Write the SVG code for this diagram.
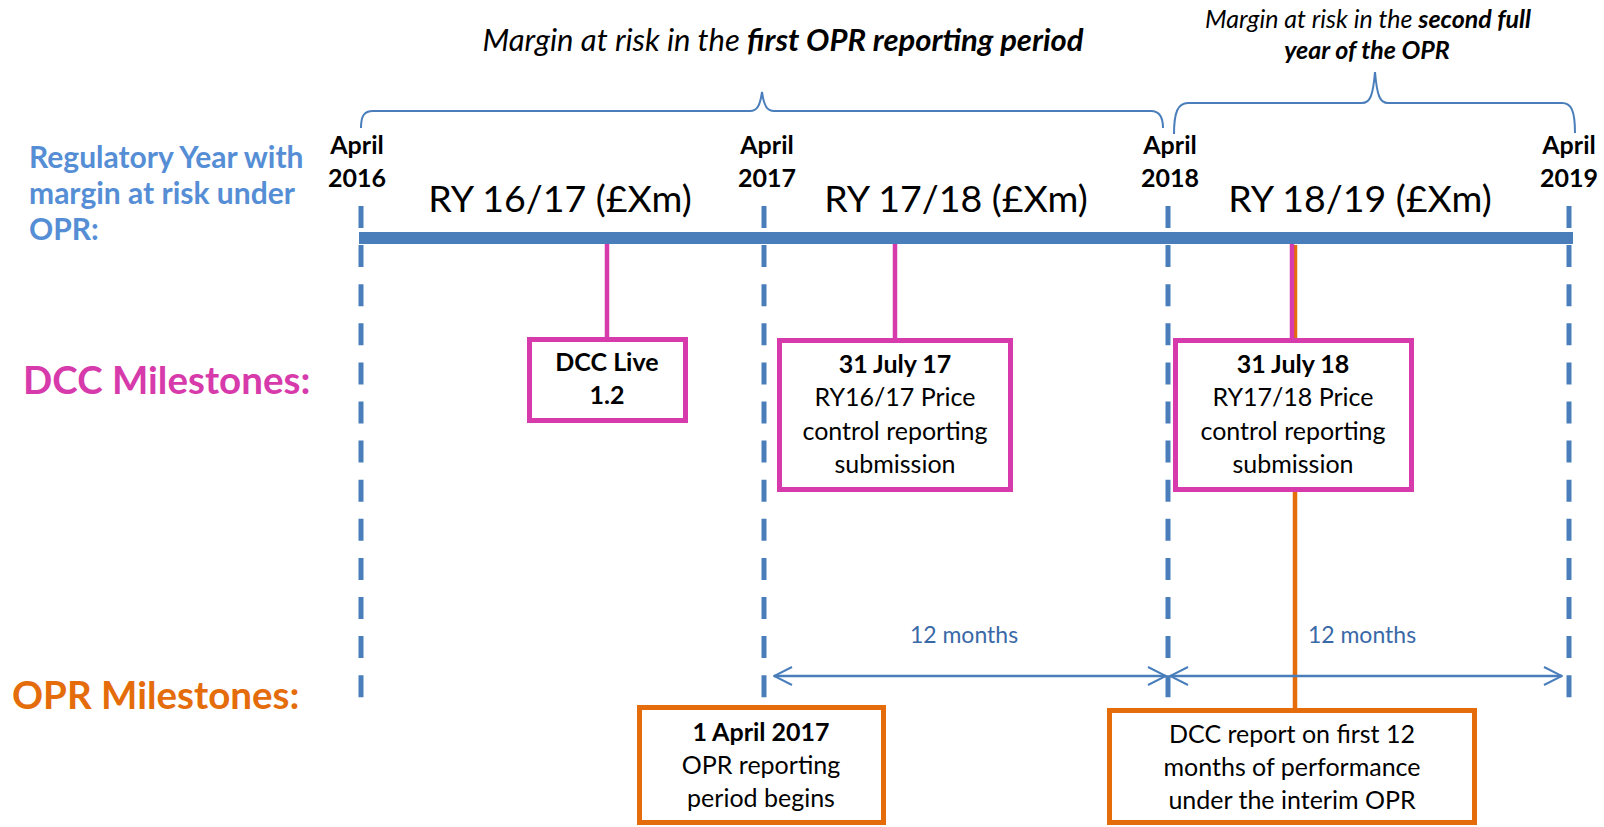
<svg xmlns="http://www.w3.org/2000/svg" width="1604" height="827" viewBox="0 0 1604 827">
<style>
text{font-family:Lato,"Open Sans","Liberation Sans",sans-serif;fill:#000}
.ttl{font-style:italic;font-size:31px}
.ttl2{font-style:italic;font-size:25px}
.b{font-weight:bold}
.yr{font-size:25px;font-weight:bold;text-anchor:middle}
.ry{font-size:37.5px;text-anchor:middle}
.bx{font-size:25px;text-anchor:middle}
.mo{font-size:23px;fill:#3a69a8;text-anchor:middle}
.dash{stroke:#4a7ebb;stroke-width:5;stroke-dasharray:22 17.1;fill:none}
.brace{stroke:#4a7ebb;stroke-width:2;fill:none}
.mag{stroke:#d63aab;stroke-width:5;fill:#fff}
.org{stroke:#e46c0a;stroke-width:5;fill:#fff}
</style>
<defs>
<marker id="ah" viewBox="0 0 20 20" refX="19" refY="10" markerWidth="20" markerHeight="20" markerUnits="userSpaceOnUse" orient="auto-start-reverse">
<path d="M1 1 L19 10 L1 19" fill="none" stroke="#4a7ebb" stroke-width="2"/>
</marker>
</defs>
<rect width="1604" height="827" fill="#fff"/>

<g id="titles">
<text class="ttl" x="783" y="51" text-anchor="middle">Margin at risk in the <tspan class="b">first OPR reporting period</tspan></text>
<text class="ttl2" x="1368" y="28" text-anchor="middle">Margin at risk in the <tspan class="b">second full</tspan></text>
<text class="ttl2 b" x="1367" y="59" text-anchor="middle">year of the OPR</text>
</g>

<g id="braces">
<path class="brace" d="M361 128 C361 116 364 111 373 111 L750 111 C757 111 760 106 762 92 C764 106 767 111 774 111 L1151 111 C1159 111 1163 116 1163 128"/>
<path class="brace" d="M1174 134 C1174 112 1178 103 1188 103 L1362 103 C1370 103 1373 96 1375 72 C1377 96 1380 103 1388 103 L1562 103 C1571 103 1575 110 1575 133"/>
</g>

<g id="row-labels">
<text class="b" x="29" y="168" font-size="30" style="fill:#558ed5">Regulatory Year with</text>
<text class="b" x="29" y="204" font-size="30" style="fill:#558ed5">margin at risk under</text>
<text class="b" x="29" y="240" font-size="30" style="fill:#558ed5">OPR:</text>
<text class="b" x="23" y="394" font-size="38.5" style="fill:#d63aab">DCC Milestones:</text>
<text class="b" x="12" y="709" font-size="38.5" style="fill:#e46c0a">OPR Milestones:</text>
</g>

<g id="years">
<text class="yr" x="357" y="154">April</text><text class="yr" x="357" y="187">2016</text>
<text class="yr" x="767" y="154">April</text><text class="yr" x="767" y="187">2017</text>
<text class="yr" x="1170" y="154">April</text><text class="yr" x="1170" y="187">2018</text>
<text class="yr" x="1569" y="154">April</text><text class="yr" x="1569" y="187">2019</text>
<text class="ry" x="560" y="212">RY 16/17 (£Xm)</text>
<text class="ry" x="956" y="212">RY 17/18 (£Xm)</text>
<text class="ry" x="1360" y="212">RY 18/19 (£Xm)</text>
</g>

<g id="connectors">
<line class="dash" x1="361" y1="206" x2="361" y2="698"/>
<line class="dash" x1="764" y1="206" x2="764" y2="698"/>
<line class="dash" x1="1168" y1="206" x2="1168" y2="698"/>
<line class="dash" x1="1569" y1="206" x2="1569" y2="698"/>
<line x1="1295" y1="245" x2="1295" y2="710" stroke="#e46c0a" stroke-width="4.5"/>
<line x1="607" y1="244" x2="607" y2="338" stroke="#d63aab" stroke-width="4.5"/>
<line x1="895" y1="244" x2="895" y2="339" stroke="#d63aab" stroke-width="4.5"/>
<line x1="1292" y1="244" x2="1292" y2="339" stroke="#d63aab" stroke-width="4.5"/>
<line x1="774" y1="676" x2="1166" y2="676" stroke="#4a7ebb" stroke-width="2.5" marker-start="url(#ah)" marker-end="url(#ah)"/>
<line x1="1170" y1="676" x2="1562" y2="676" stroke="#4a7ebb" stroke-width="2.5" marker-start="url(#ah)" marker-end="url(#ah)"/>
<text class="mo" x="964" y="643">12 months</text>
<text class="mo" x="1362" y="643">12 months</text>
</g>

<g id="timeline">
<rect x="359" y="232" width="1214" height="12" fill="#4a7ebb"/>
</g>

<g id="dcc-live">
<rect class="mag" x="529.5" y="339.5" width="156" height="81"/>
<text class="bx b" x="607" y="371">DCC Live</text>
<text class="bx b" x="607" y="404">1.2</text>
</g>

<g id="july17">
<rect class="mag" x="779.5" y="340.5" width="231" height="149"/>
<text class="bx b" x="895" y="373">31 July 17</text>
<text class="bx" x="895" y="406">RY16/17 Price</text>
<text class="bx" x="895" y="440">control reporting</text>
<text class="bx" x="895" y="473">submission</text>
</g>

<g id="july18">
<rect class="mag" x="1175.5" y="340.5" width="236" height="149"/>
<text class="bx b" x="1293" y="373">31 July 18</text>
<text class="bx" x="1293" y="406">RY17/18 Price</text>
<text class="bx" x="1293" y="440">control reporting</text>
<text class="bx" x="1293" y="473">submission</text>
</g>

<g id="opr-begins">
<rect class="org" x="639.5" y="707.5" width="244" height="115"/>
<text class="bx b" x="761" y="741">1 April 2017</text>
<text class="bx" x="761" y="774">OPR reporting</text>
<text class="bx" x="761" y="807">period begins</text>
</g>

<g id="dcc-report">
<rect class="org" x="1109.5" y="710.5" width="365" height="112"/>
<text class="bx" x="1292" y="743">DCC report on first 12</text>
<text class="bx" x="1292" y="776">months of performance</text>
<text class="bx" x="1292" y="809">under the interim OPR</text>
</g>
</svg>
